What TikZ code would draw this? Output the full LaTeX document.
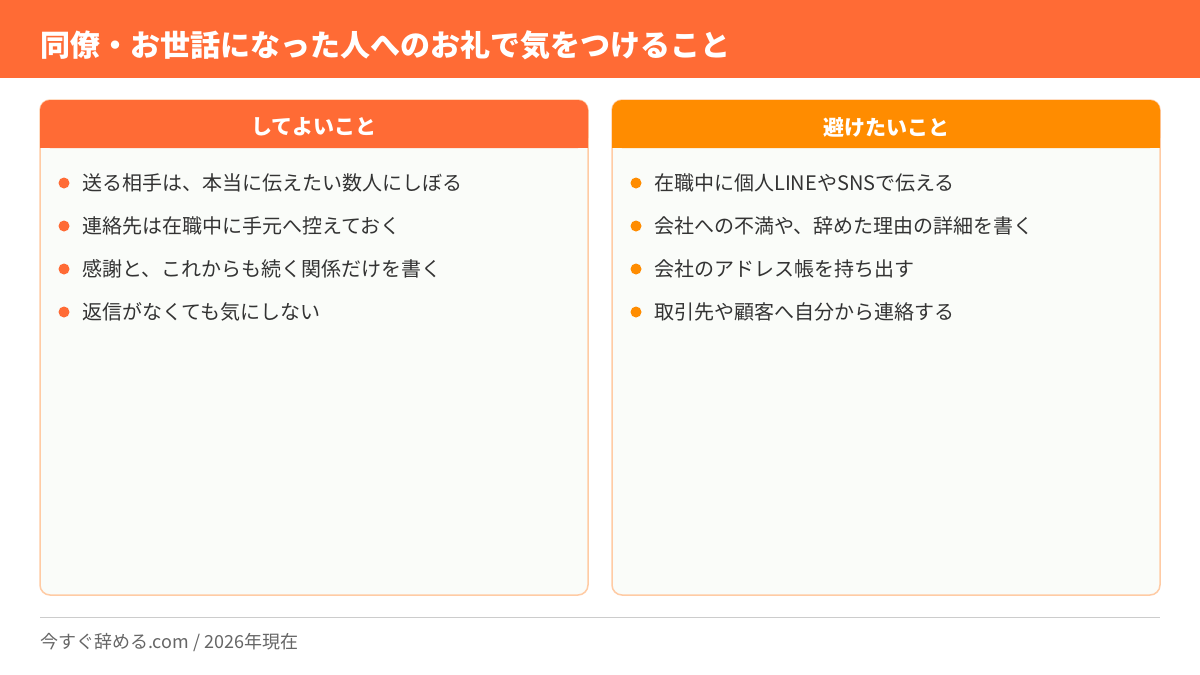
\documentclass[tikz,border=0pt]{standalone}
\usepackage{fontspec}
\setmainfont{Noto Sans CJK JP}
\newfontfamily\jpb{Noto Sans CJK JP}[BoldFont={* Bold}]
\definecolor{ttl}{HTML}{FF6B35}
\definecolor{hdB}{HTML}{FF8C00}
\definecolor{brd}{HTML}{FFCBA4}
\definecolor{bod}{HTML}{FAFCF9}
\definecolor{txt}{HTML}{333333}
\definecolor{gry}{HTML}{666666}
\begin{document}
\begin{tikzpicture}[x=1pt,y=-1pt,
 item/.style={anchor=west,font=\fontsize{20}{24}\selectfont,text=txt,inner sep=0pt},
 hd/.style={font=\fontsize{21}{24}\selectfont\bfseries,text=white}]
\useasboundingbox (0,0) rectangle (1200,675);
\fill[white] (0,0) rectangle (1200,675);
\fill[ttl] (0,0) rectangle (1200,78);
\node[anchor=west,font=\fontsize{30}{34}\selectfont\bfseries,text=white,inner sep=0pt] (title) at (40,45) {同僚・お世話になった人へのお礼で気をつけること};
% panels
\foreach \x/\c/\n in {40/ttl/L,612/hdB/R}{
 \draw[brd,fill=bod,line width=1.5pt,rounded corners=10pt] (\x,100) rectangle ++(548,495);
 \fill[\c,rounded corners=10pt] (\x,100) rectangle ++(548,48);
 \fill[\c] (\x,130) rectangle ++(548,18);
}
\node[hd] (hL) at (314,127) {してよいこと};
\node[hd] (hR) at (886,127) {避けたいこと};
\foreach \t [count=\i] in {送る相手は、本当に伝えたい数人にしぼる,連絡先は在職中に手元へ控えておく,感謝と、これからも続く関係だけを書く,返信がなくても気にしない}{
 \fill[ttl] (64,140+43*\i) circle (5.5);
 \node[item] (l\i) at (82,140+43*\i) {\t};
}
\foreach \t [count=\i] in {在職中に個人LINEやSNSで伝える,会社への不満や、辞めた理由の詳細を書く,会社のアドレス帳を持ち出す,取引先や顧客へ自分から連絡する}{
 \fill[hdB] (636,140+43*\i) circle (5.5);
 \node[item] (r\i) at (654,140+43*\i) {\t};
}
\draw[gray!40,line width=1pt] (40,617) -- (1160,617);
\node[anchor=west,font=\fontsize{18}{22}\selectfont,text=gry,inner sep=0pt] (ft) at (40,643) {今すぐ辞める.com / 2026年現在};
\end{tikzpicture}
\end{document}
